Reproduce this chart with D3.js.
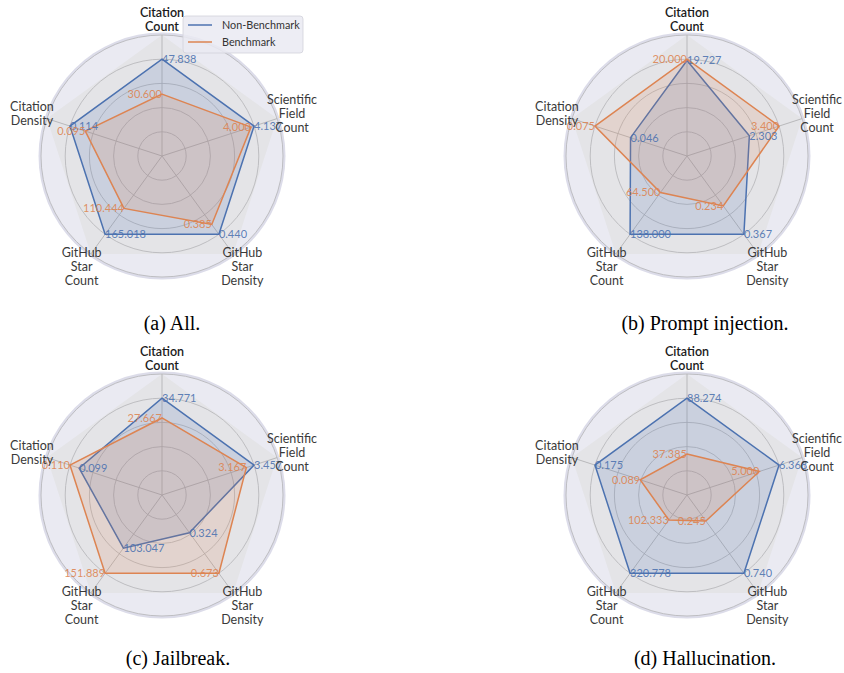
<!DOCTYPE html>
<html>
<head>
<meta charset="utf-8">
<script src="https://cdn.jsdelivr.net/npm/d3@7"></script>
<style>
  html, body { margin: 0; padding: 0; background: #ffffff; }
  svg { display: block; }
</style>
</head>
<body>
<svg id="chart" width="844" height="673"></svg>
<script>
// Metric axes, clockwise from the top
const axisNames = ["Citation Count", "Scientific Field Count", "GitHub Star Density", "GitHub Star Count", "Citation Density"];
const axisLabelLines = [["Citation", "Count"], ["Scientific", "Field", "Count"], ["GitHub", "Star", "Density"], ["GitHub", "Star", "Count"], ["Citation", "Density"]];

const seriesNames = ["Non-Benchmark", "Benchmark"];
const seriesColors = ["#4c72b0", "#dd8452"];

const panelCaptions = ["(a) All.", "(b) Prompt injection.", "(c) Jailbreak.", "(d) Hallucination."];

// Mean values per panel, in axis order
const nonBenchmark = [
  [47.838, 4.137, 0.440, 165.018, 0.114],
  [19.727, 2.303, 0.367, 138.000, 0.046],
  [34.771, 3.457, 0.324, 103.047, 0.099],
  [88.274, 6.368, 0.740, 320.778, 0.175]
];
const benchmark = [
  [30.600, 4.000, 0.385, 110.444, 0.095],
  [20.000, 3.400, 0.234, 64.500, 0.075],
  [27.667, 3.167, 0.673, 151.889, 0.110],
  [37.385, 5.000, 0.245, 102.333, 0.089]
];

const ringLevels = [0.2, 0.4, 0.6, 0.8, 1.0];

const svg = d3.select("#chart");
const R = 121;
const centers = [[162, 156], [687, 156], [162, 495], [687, 495]];
const captionPos = [[172, 330], [705, 330], [178, 665], [705, 665]];

const angle = d3.scaleLinear().domain([0, axisNames.length]).range([0, 2 * Math.PI]);
const unit = d3.scaleLinear().domain([0, 1]).range([0, R]);

function pt(i, r) {
  const a = angle(i);
  return [r * Math.sin(a), -r * Math.cos(a)];
}

panelCaptions.forEach((caption, p) => {
  const [cx, cy] = centers[p];
  const g = svg.append("g").attr("transform", `translate(${cx},${cy})`);

  // Polar frame and background
  g.append("circle").attr("r", R + 2.5).attr("fill", "#dcdce9");
  g.append("circle").attr("r", R).attr("fill", "#eaeaf2");

  // Full-scale pentagon
  const full = d3.lineRadial().angle((d, i) => angle(i)).radius(() => unit(1)).curve(d3.curveLinearClosed);
  g.append("path").attr("d", full(axisNames)).attr("fill", "#e4e4e7").attr("stroke", "none");

  // Rings
  g.selectAll("circle.ring").data(ringLevels).join("circle")
    .attr("class", "ring")
    .attr("r", d => unit(d))
    .attr("fill", "none")
    .attr("stroke", "#b9b9bc")
    .attr("stroke-width", 0.9);

  // Spokes
  g.selectAll("line.spoke").data(axisNames).join("line")
    .attr("class", "spoke")
    .attr("x1", 0).attr("y1", 0)
    .attr("x2", (d, i) => pt(i, unit(1))[0])
    .attr("y2", (d, i) => pt(i, unit(1))[1])
    .attr("stroke", "#b3b3b6")
    .attr("stroke-width", 0.9);

  // Per-axis radial scales: each axis max sits at 0.8 of the radius
  const data = [nonBenchmark[p], benchmark[p]];
  const scales = axisNames.map((a, i) => {
    const m = d3.max(data, s => s[i]);
    return d3.scaleLinear().domain([0, m / 0.8]).range([0, R]);
  });

  const line = d3.lineRadial()
    .angle((d, i) => angle(i))
    .radius((d, i) => scales[i](d))
    .curve(d3.curveLinearClosed);

  data.forEach((vals, s) => {
    g.append("path")
      .attr("d", line(vals))
      .attr("fill", seriesColors[s])
      .attr("fill-opacity", 0.17)
      .attr("stroke", seriesColors[s])
      .attr("stroke-width", 1.5)
      .attr("stroke-linejoin", "miter");
  });

  // Value labels at each vertex
  data.forEach((vals, s) => {
    g.selectAll(`text.val${s}`).data(vals).join("text")
      .attr("class", `val${s}`)
      .attr("x", (d, i) => pt(i, scales[i](d))[0])
      .attr("y", (d, i) => pt(i, scales[i](d))[1])
      .attr("dy", "0.35em")
      .attr("text-anchor", s === 0 ? "start" : "end")
      .attr("font-family", "Lato, 'Open Sans', sans-serif")
      .attr("font-size", 11)
      .attr("fill", seriesColors[s])
      .attr("fill-opacity", 0.9)
      .text(d => d3.format(".3f")(d));
  });

  // Axis labels
  const labelR = R * 1.13;
  const lh = 14.2;
  axisLabelLines.forEach((lines, i) => {
    const [lx, ly] = pt(i, labelR);
    const t = g.append("text")
      .attr("text-anchor", "middle")
      .attr("font-family", "Lato, 'Open Sans', sans-serif")
      .attr("font-size", 12.5)
      .attr("fill", i === 0 ? "#1a1a1a" : "#3a3a3a")
      .attr("font-weight", i === 0 ? 600 : 400);
    lines.forEach((ln, k) => {
      t.append("tspan")
        .attr("x", lx)
        .attr("y", ly + (k - (lines.length - 1) / 2) * lh)
        .attr("dy", "0.35em")
        .text(ln);
    });
  });

  // Caption
  svg.append("text")
    .attr("x", captionPos[p][0])
    .attr("y", captionPos[p][1])
    .attr("text-anchor", "middle")
    .attr("font-family", "'Liberation Serif', 'Times New Roman', serif")
    .attr("font-size", 20)
    .attr("fill", "#000")
    .text(caption);
});

// Legend on the first panel
const lg = svg.append("g").attr("transform", "translate(183,16)");
lg.append("rect")
  .attr("width", 120).attr("height", 37).attr("rx", 3)
  .attr("fill", "#eaeaf2").attr("fill-opacity", 0.85)
  .attr("stroke", "#d2d2da").attr("stroke-width", 0.8);
seriesNames.forEach((name, s) => {
  const y = 9 + s * 17;
  lg.append("line")
    .attr("x1", 5).attr("x2", 29).attr("y1", y).attr("y2", y)
    .attr("stroke", seriesColors[s]).attr("stroke-width", 1.5);
  lg.append("text")
    .attr("x", 39).attr("y", y).attr("dy", "0.35em")
    .attr("font-family", "Lato, 'Open Sans', sans-serif")
    .attr("font-size", 10.8)
    .attr("fill", "#333")
    .text(name);
});
</script>
</body>
</html>
